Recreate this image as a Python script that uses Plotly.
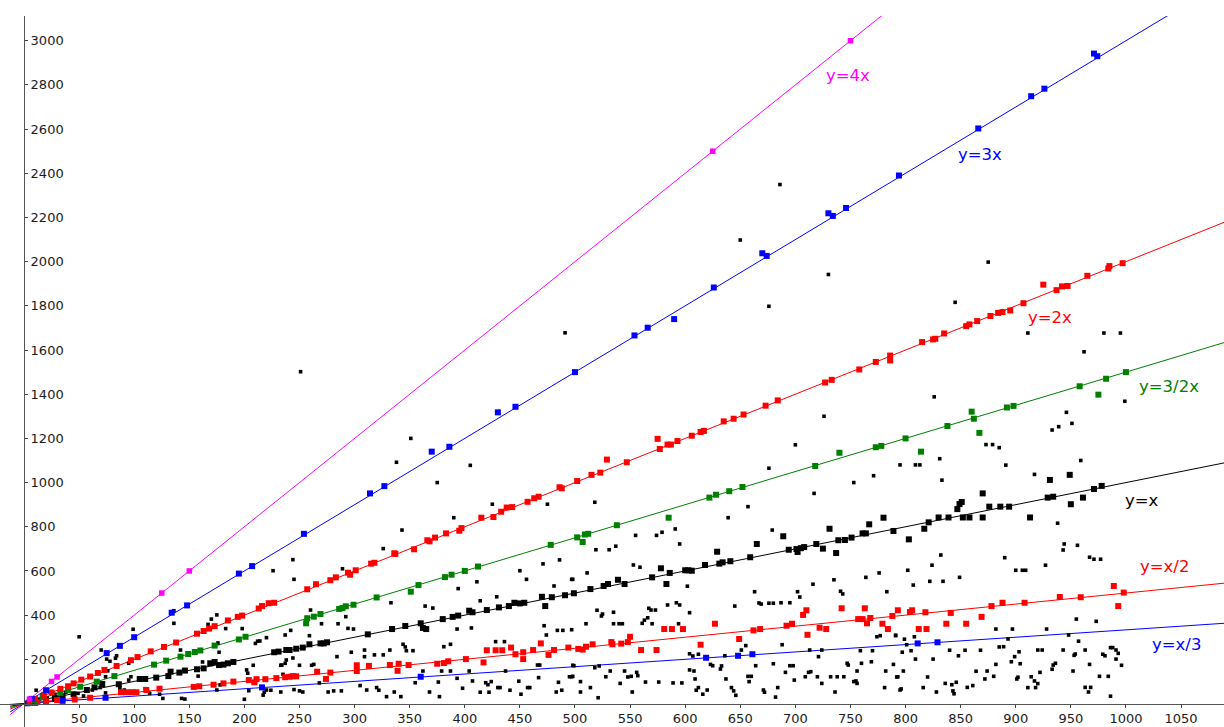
import plotly.graph_objects as go

# Reference lines y = k*x
line_slopes = [4, 3, 2, 1.5, 1, 0.5, 1 / 3]
line_names = ["y=4x", "y=3x", "y=2x", "y=3/2x", "y=x", "y=x/2", "y=x/3"]
line_colors = ["#FF00FF", "#0000FF", "#FF0000", "#008000", "#000000", "#FF0000", "#0000FF"]
# label anchor positions (data units)
label_x = [748, 868, 931, 1039, 1015, 1035, 1046]
label_y = [2841, 2484, 1745, 1433, 917, 618, 265]

x_ticks = list(range(50, 1051, 50))
y_ticks = list(range(200, 3001, 200))

# Points lying on / near y = 4x
pts_4x = [(5, 20), (25, 100), (30, 120), (125, 500), (150, 600), (625, 2500), (750, 3000)]

# Points on / near y = 3x
pts_3x = [(7, 21), (20, 60), (75, 228), (87, 261), (100, 300), (134, 411), (148, 444),
          (195, 588), (207, 622), (254, 768), (314, 951), (327, 984), (370, 1140),
          (386, 1162), (430, 1318), (446, 1343), (500, 1500), (554, 1666), (566, 1701),
          (590, 1740), (626, 1883), (670, 2038), (674, 2026), (730, 2219), (734, 2207),
          (746, 2243), (794, 2390), (866, 2603), (914, 2749), (926, 2783), (971, 2942),
          (974, 2930)]

# Points on / near y = 2x
pts_2x = [(10, 20), (18, 36), (25, 50), (33, 66), (40, 78), (45, 91), (52, 108), (60, 122),
          (67, 138), (73, 152), (84, 170), (97, 196), (103, 210), (115, 236), (127, 256),
          (138, 276), (157, 316), (163, 328), (168, 339), (173, 350), (185, 376), (194, 392),
          (198, 398), (213, 430), (216, 441), (222, 454), (227, 456), (257, 517), (265, 540),
          (278, 558), (283, 571), (294, 592), (296, 583), (301, 603), (315, 633), (318, 637),
          (336, 680), (337, 677), (354, 698), (366, 739), (368, 734), (373, 751), (383, 770),
          (395, 782), (397, 794), (415, 841), (426, 844), (433, 868), (438, 887), (443, 889),
          (457, 913), (463, 929), (467, 936), (486, 979), (488, 974), (502, 1007), (515, 1035),
          (523, 1045), (529, 1104), (547, 1092), (575, 1198), (577, 1152), (584, 1172),
          (587, 1172), (593, 1188), (606, 1212), (614, 1229), (617, 1234), (635, 1277),
          (644, 1289), (653, 1308), (673, 1348), (684, 1372), (727, 1453), (733, 1465),
          (758, 1512), (773, 1546), (786, 1575), (786, 1553), (815, 1636), (825, 1648),
          (827, 1651), (835, 1675), (855, 1708), (858, 1716), (865, 1731), (877, 1754),
          (884, 1768), (888, 1772), (895, 1779), (907, 1812), (925, 1896), (937, 1871),
          (942, 1888), (947, 1890), (965, 1936), (984, 1969), (985, 1980), (997, 1993)]

# Points on / near y = 3/2 x
pts_15x = [(10, 15), (17, 30), (33, 48), (40, 60), (51, 76), (66, 99), (82, 124), (118, 176),
           (129, 194), (142, 212), (149, 224), (155, 233), (160, 240), (173, 262), (195, 290),
           (201, 302), (256, 363), (257, 386), (263, 393), (269, 405), (286, 428), (289, 432),
           (292, 440), (299, 447), (320, 480), (351, 506), (358, 536), (382, 572), (388, 583),
           (400, 600), (412, 620), (478, 718), (502, 752), (507, 731), (509, 765), (512, 768),
           (538, 807), (585, 841), (622, 932), (628, 945), (640, 961), (652, 980), (718, 1075),
           (740, 1135), (773, 1160), (778, 1166), (800, 1200), (814, 1140), (838, 1256),
           (860, 1321), (862, 1289), (867, 1225), (892, 1340), (898, 1347), (958, 1436),
           (975, 1398), (982, 1470), (1000, 1500)]

# Large black points on / near y = x
pts_1x = [(5, 5), (12, 12), (20, 18), (28, 25), (35, 33), (45, 42), (57, 61), (64, 73),
          (71, 88), (86, 87), (105, 111), (110, 111), (120, 117), (131, 124), (133, 144),
          (141, 140), (146, 149), (157, 155), (163, 159), (169, 182), (173, 188), (177, 174),
          (181, 176), (185, 182), (190, 188), (227, 232), (231, 235), (238, 242), (241, 242),
          (247, 248), (253, 253), (259, 268), (269, 272), (272, 272), (275, 277), (312, 313),
          (334, 337), (346, 351), (360, 363), (362, 342), (365, 337), (380, 382), (389, 392),
          (394, 398), (404, 420), (407, 413), (420, 423), (431, 435), (440, 441), (445, 456),
          (450, 453), (454, 456), (470, 483), (473, 441), (479, 481), (491, 490), (499, 499),
          (514, 518), (526, 532), (530, 541), (539, 560), (545, 541), (570, 571), (578, 612),
          (583, 541), (586, 591), (600, 603), (603, 603), (606, 601), (618, 627), (629, 687),
          (631, 633), (634, 639), (641, 644), (659, 662), (665, 722), (689, 757), (694, 696),
          (701, 699), (702, 686), (705, 703), (708, 708), (719, 722), (725, 701), (731, 791),
          (737, 681), (739, 739), (745, 740), (751, 751), (761, 770), (764, 770), (767, 811),
          (780, 841), (789, 781), (803, 743), (817, 791), (821, 820), (830, 842), (839, 842),
          (847, 880), (849, 903), (851, 912), (852, 842), (858, 842), (870, 951), (870, 842),
          (876, 891), (886, 891), (894, 891), (913, 842), (929, 932), (931, 1012), (934, 936),
          (949, 1035), (950, 902), (961, 932), (971, 971), (978, 985)]

# Points on / near y = x/2
pts_half = [(5, 3), (12, 6), (20, 10), (30, 15), (46, 18), (60, 26), (88, 51), (93, 51),
            (98, 51), (102, 51), (111, 61), (123, 67), (154, 75), (159, 78), (172, 85),
            (181, 91), (190, 99), (204, 106), (211, 110), (219, 110), (237, 119), (244, 124),
            (209, 96), (229, 115), (241, 121), (247, 123), (266, 144), (274, 111), (278, 140),
            (302, 173), (302, 147), (313, 170), (332, 174), (339, 148), (340, 180), (349, 174),
            (375, 180), (381, 183), (385, 191), (401, 201), (417, 186), (420, 241), (428, 241),
            (434, 241), (442, 253), (446, 223), (453, 232), (453, 201), (462, 242), (469, 272),
            (476, 220), (481, 242), (494, 253), (503, 247), (507, 244), (510, 257), (516, 268),
            (533, 278), (534, 268), (542, 271), (548, 278), (550, 302), (560, 242), (574, 242),
            (581, 337), (588, 337), (598, 337), (614, 266), (627, 361), (649, 292), (662, 331),
            (668, 337), (692, 352), (697, 361), (707, 401), (710, 422), (711, 311), (722, 343),
            (728, 337), (742, 431), (757, 382), (761, 382), (763, 431), (765, 363), (768, 387),
            (779, 361), (784, 337), (788, 396), (793, 422), (804, 414), (806, 422), (812, 337),
            (818, 413), (819, 337), (837, 361), (841, 410), (855, 361), (869, 392), (878, 441),
            (888, 456), (908, 456), (940, 482), (959, 481), (989, 532), (998, 502), (993, 441)]

# Points on / near y = x/3
pts_third = [(3, 1), (10, 3), (20, 7), (35, 12), (74, 26), (216, 73), (360, 121), (619, 207),
             (648, 216), (661, 223), (811, 272), (829, 277)]

# Remaining small black points
pts_other = [
    (11, 60), (50, 302), (70, 242), (75, 201), (78, 191), (83, 205), (84, 216), (74, 121),
    (76, 148), (99, 336), (136, 420), (136, 363), (142, 242), (162, 188), (167, 358),
    (170, 382), (175, 401), (183, 339), (198, 339), (177, 232), (210, 272), (212, 282),
    (176, 274), (95, 182), (203, 137), (202, 152), (210, 96), (204, 58), (200, 19), (175, 61),
    (178, 84), (158, 124), (143, 23), (146, 20), (123, 42), (126, 23), (110, 67), (114, 46),
    (95, 106), (97, 121), (87, 69), (91, 61), (69, 72), (74, 48), (62, 61), (54, 34), (49, 46),
    (38, 51), (28, 42), (21, 24), (238, 197), (244, 206), (235, 132), (245, 124), (233, 173),
    (220, 61), (217, 38),
    (375, 1000), (425, 902), (390, 841), (343, 785), (326, 701), (244, 651), (226, 601),
    (245, 562), (289, 610), (475, 902), (411, 551), (394, 520), (364, 441), (371, 432),
    (333, 456), (414, 465), (429, 483), (456, 562), (450, 601), (471, 632), (486, 650),
    (481, 532), (497, 562), (472, 352), (484, 331), (489, 331), (474, 310), (466, 174),
    (468, 174), (436, 280), (428, 280), (406, 342), (393, 337), (387, 268), (381, 257),
    (344, 268), (347, 239), (353, 239), (346, 256), (292, 393), (285, 361), (270, 361),
    (294, 340), (299, 337), (260, 423), (259, 307), (242, 331), (237, 310), (220, 298),
    (214, 283), (208, 173), (234, 174), (237, 182), (250, 173), (261, 173), (263, 177),
    (284, 212), (297, 232), (309, 242), (309, 212), (318, 220), (326, 220), (332, 242),
    (305, 81), (311, 61), (320, 72), (322, 60), (329, 31), (336, 52), (342, 31), (268, 93),
    (276, 52), (281, 57), (288, 57), (245, 63), (250, 57), (253, 52), (218, 51), (224, 60),
    (233, 52), (362, 147), (379, 147), (355, 94), (368, 52), (376, 97), (377, 31), (387, 147),
    (393, 114), (398, 69), (404, 147), (407, 102), (414, 51), (422, 51), (419, 94), (421, 85),
    (424, 99), (430, 72), (432, 72), (437, 147), (441, 60), (449, 101), (451, 42), (457, 72),
    (459, 72), (467, 117), (483, 52), (488, 60), (485, 96), (495, 121), (497, 121), (499, 171),
    (518, 911), (657, 891), (639, 841), (717, 951), (753, 1000), (555, 761), (574, 761),
    (579, 775), (591, 790), (595, 722), (679, 785), (531, 696), (519, 696), (537, 712),
    (511, 591), (553, 627), (559, 617), (602, 531), (663, 506), (702, 506), (704, 482),
    (716, 540), (735, 560), (741, 508), (743, 496), (764, 571), (776, 591), (783, 506),
    (498, 562), (520, 422), (524, 396), (525, 405), (535, 413), (510, 361), (535, 361),
    (540, 361), (543, 361), (567, 431), (569, 423), (573, 423), (566, 388), (561, 363),
    (563, 377), (570, 361), (584, 446), (592, 456), (595, 446), (594, 361), (604, 411),
    (645, 441), (667, 455), (669, 450), (676, 454), (680, 454), (687, 456), (695, 456),
    (497, 334), (498, 173), (498, 123), (518, 162), (522, 170), (528, 121), (532, 147),
    (545, 147), (548, 120), (551, 123), (556, 141), (557, 126), (541, 91), (564, 97),
    (576, 97), (589, 93), (597, 93), (604, 152), (608, 147), (604, 225), (607, 215),
    (612, 223), (609, 111), (612, 72), (610, 60), (616, 42), (620, 61), (623, 177), (625, 171),
    (632, 156), (633, 170), (636, 216), (637, 111), (642, 72), (644, 57), (646, 37), (651, 242),
    (655, 262), (657, 123), (660, 123), (658, 99), (664, 171), (671, 61), (672, 51), (680, 180),
    (682, 29), (684, 72), (688, 266), (691, 141), (695, 171), (698, 171), (699, 106),
    (709, 121), (712, 141), (714, 144), (713, 242), (721, 212), (724, 242), (720, 121),
    (724, 91), (732, 121), (738, 121), (736, 52), (744, 121), (747, 182), (748, 174), (753, 99),
    (755, 102), (756, 91), (756, 147), (759, 239), (760, 182), (769, 189), (770, 239),
    (774, 302), (777, 307), (782, 147), (781, 72), (789, 177), (791, 307), (793, 121),
    (795, 61), (505, 99), (505, 52), (514, 72), (521, 26), (552, 52),
    (700, 1171), (676, 1065), (726, 1300), (795, 1080), (809, 1080), (813, 1080), (771, 1031),
    (826, 1388), (831, 1108), (891, 1079), (959, 1100), (917, 1037), (833, 1011), (873, 1172),
    (879, 1172), (885, 1158), (845, 1816), (875, 1998), (911, 1677), (962, 1592), (980, 1677),
    (995, 1677), (999, 1368), (946, 1318), (951, 1268), (939, 1253), (933, 1238), (650, 2098),
    (686, 2349), (676, 1798), (730, 1942), (491, 1678), (405, 1078), (351, 1200), (251, 1502),
    (338, 1092),
    (938, 816), (944, 722), (943, 695), (956, 716), (967, 662), (971, 653), (977, 653),
    (890, 660), (900, 603), (906, 603), (909, 603), (927, 626), (832, 672), (824, 626),
    (802, 603), (822, 553), (834, 553), (807, 536), (849, 571), (882, 337), (897, 337),
    (928, 337), (955, 382), (973, 372), (893, 292), (948, 310), (957, 282), (791, 309),
    (799, 291), (808, 302), (801, 266), (805, 239), (809, 201), (797, 232), (798, 147),
    (792, 120), (796, 66), (816, 72), (820, 120), (825, 201), (828, 52), (836, 91), (840, 241),
    (842, 85), (843, 57), (844, 44), (846, 96), (848, 216), (854, 241), (856, 73), (861, 81),
    (864, 146), (868, 241), (872, 111), (874, 147), (880, 123), (882, 177), (885, 256),
    (889, 257), (896, 189), (899, 212), (904, 180), (903, 234), (901, 111), (902, 119),
    (911, 72), (918, 72), (914, 121), (917, 102), (920, 90), (922, 141), (920, 242), (924, 242),
    (933, 155), (934, 174), (936, 182), (943, 242), (952, 147), (953, 218), (954, 224),
    (963, 242), (963, 73), (966, 52), (968, 73), (967, 177), (976, 123), (984, 123), (979, 223),
    (981, 216), (986, 253), (988, 253), (991, 242), (993, 227), (991, 201), (996, 173),
    (986, 33),
]

FONT = "DejaVu Sans"
X_MIN, X_MAX = -21.8, 1089
Y_MIN, Y_MAX = -106.4, 3112
LINE_X = [-12.5, 1100]

fig = go.Figure()

for k, color in zip(line_slopes, line_colors):
    fig.add_trace(go.Scatter(x=LINE_X, y=[k * v for v in LINE_X], mode="lines",
                             line=dict(color=color, width=1), hoverinfo="skip"))


def add_points(pts, color, size):
    fig.add_trace(go.Scatter(
        x=[p[0] for p in pts], y=[p[1] for p in pts], mode="markers",
        marker=dict(symbol="square", size=size, color=color, line=dict(width=0))))


add_points(pts_other, "#000000", 3.6)
add_points(pts_1x, "#000000", 6)
add_points(pts_third, "#0000FF", 6)
add_points(pts_half, "#FF0000", 6)
add_points(pts_15x, "#008000", 6)
add_points(pts_2x, "#FF0000", 6)
add_points(pts_3x, "#0000FF", 6)
add_points(pts_4x, "#FF00FF", 5.5)

for name, color, lx, ly in zip(line_names, line_colors, label_x, label_y):
    fig.add_annotation(x=lx, y=ly, xref="x", yref="y", text=name, showarrow=False,
                       font=dict(family=FONT, size=16.5, color=color))

W, H = 1224, 727
y_top_px = 16
fig.update_layout(
    width=W, height=H, margin=dict(l=0, r=0, t=0, b=0),
    paper_bgcolor="white", plot_bgcolor="white", showlegend=False,
    xaxis=dict(range=[X_MIN, X_MAX], domain=[0, 1], anchor="free",
               position=(H - 703.5) / H, side="bottom",
               tickvals=x_ticks, ticks="outside", ticklen=3, tickcolor="#444",
               showline=True, linecolor="#555", linewidth=1, showgrid=False, zeroline=False,
               tickfont=dict(family=FONT, size=13, color="#1a1a1a")),
    yaxis=dict(range=[Y_MIN, Y_MAX], domain=[0, 1 - y_top_px / H], anchor="free",
               position=24 / W, side="right",
               tickvals=y_ticks, ticks="outside", ticklen=3, tickcolor="#444",
               showline=True, linecolor="#555", linewidth=1, showgrid=False, zeroline=False,
               tickfont=dict(family=FONT, size=13, color="#1a1a1a")),
)

fig.write_html("out.html")
